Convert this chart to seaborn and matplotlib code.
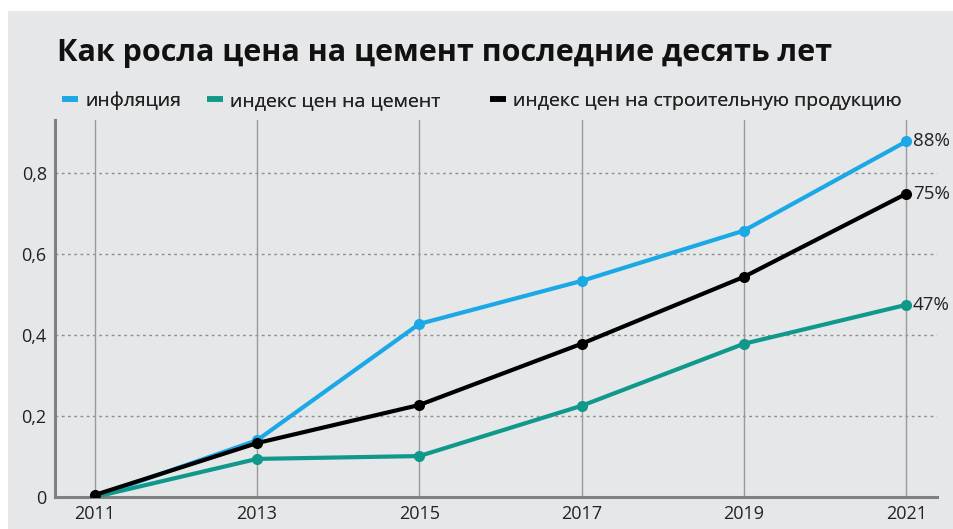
import matplotlib
matplotlib.use("Agg")
import matplotlib.pyplot as plt
import seaborn as sns
import pandas as pd
from matplotlib.patches import Rectangle
from matplotlib.lines import Line2D

years = [2011, 2013, 2015, 2017, 2019, 2021]
inflation = [0.0, 0.14, 0.427, 0.533, 0.657, 0.877]
cement = [0.0, 0.094, 0.101, 0.225, 0.378, 0.474]
construction = [0.005, 0.133, 0.227, 0.378, 0.543, 0.748]
series_names = ["инфляция", "индекс цен на цемент", "индекс цен на строительную продукцию"]
end_labels = ["88%", "47%", "75%"]
yticks = [0, 0.2, 0.4, 0.6, 0.8]
ytick_labels = ["0", "0,2", "0,4", "0,6", "0,8"]
colors = ["#1ba8e6", "#10998a", "#000000"]
title = "Как росла цена на цемент последние десять лет"

sns.set_theme(style="white")
plt.rcParams["font.family"] = ["Open Sans", "DejaVu Sans"]

df = pd.DataFrame({
    "year": years * 3,
    "value": inflation + cement + construction,
    "series": [series_names[0]] * 6 + [series_names[1]] * 6 + [series_names[2]] * 6,
})

W, H = 954, 529
fig = plt.figure(figsize=(W / 100, H / 100), dpi=100, facecolor="white")
bg = "#e6e7e9"
fig.patches.append(Rectangle((8 / W, 0), 1, (H - 11) / H, transform=fig.transFigure,
                             facecolor=bg, edgecolor="none", zorder=-10))

ax = fig.add_axes([55 / W, (H - 497) / H, (937 - 55) / W, (497 - 120) / H])
ax.set_facecolor(bg)

ax.set_xlim(2010.51, 2021.38)
ax.set_ylim(0, 0.93)

for yv in yticks[1:]:
    ax.axhline(yv, color="#8f8f8f", lw=1, ls=(0, (2, 2.5)), zorder=1)
for xv in years:
    ax.axvline(xv, color="#9a9a9a", lw=1, zorder=1)

sns.lineplot(data=df, x="year", y="value", hue="series", palette=colors,
             marker="o", markersize=8, markeredgewidth=0, linewidth=3,
             ax=ax, legend=False, zorder=3)

vals = [inflation, cement, construction]
for v, lab in zip(vals, end_labels):
    ax.annotate(lab, (years[-1], v[-1]), xytext=(5, 0), textcoords="offset points",
                va="center", ha="left", fontsize=13.5, color="#222222")

ax.set_xticks(years)
ax.set_xticklabels([str(y) for y in years], fontsize=13, color="#222222")
ax.set_yticks(yticks)
ax.set_yticklabels(ytick_labels, fontsize=13, color="#222222")
ax.tick_params(axis="both", length=0, pad=6)
ax.set_xlabel("")
ax.set_ylabel("")
for s in ["top", "right"]:
    ax.spines[s].set_visible(False)
for s in ["left", "bottom"]:
    ax.spines[s].set_color("#808080")
    ax.spines[s].set_linewidth(2.2)
    ax.spines[s].set_zorder(2)

fig.text(57 / W, 1 - 53 / H, title, fontsize=22, fontweight="bold", color="#111111",
         va="center", ha="left")

legend_x = [62, 207, 490]
for c, name, lx in zip(colors, series_names, legend_x):
    leg = fig.legend([Line2D([0], [0], color=c, lw=4, solid_capstyle="butt")], [name],
                     loc="center left", bbox_to_anchor=(lx / W, 1 - 101 / H), frameon=False,
                     fontsize=14, handlelength=0.8, handletextpad=0.4, borderpad=0,
                     borderaxespad=0, labelcolor="#222222")
    fig.add_artist(leg)

fig.savefig("out.png", dpi=100, facecolor="white")
